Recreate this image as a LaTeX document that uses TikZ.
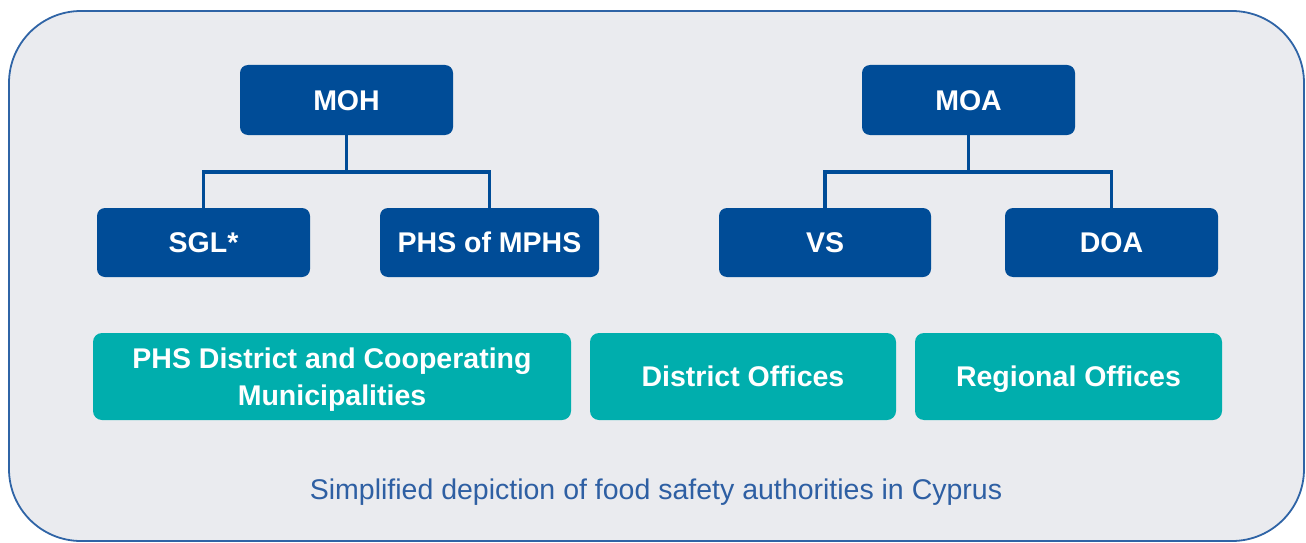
\documentclass[tikz,border=0pt]{standalone}
\usepackage{fontspec}
\setmainfont{Liberation Sans}
\definecolor{bgc}{HTML}{EAEBEF}
\definecolor{framec}{HTML}{2F64A6}
\definecolor{darkb}{HTML}{004C97}
\definecolor{tealc}{HTML}{00AEAD}
\definecolor{capc}{HTML}{2E5FA3}
\begin{document}
\begin{tikzpicture}[x=1pt,y=-1pt,
  bluebox/.style={fill=darkb, rounded corners=8pt, text=white, font=\fontsize{28.5}{34}\selectfont\bfseries, minimum height=70pt, inner sep=0pt, align=center, text height=20.5pt, text depth=0pt},
  tealbox/.style={fill=tealc, rounded corners=9pt, text=white, font=\fontsize{28.5}{37}\selectfont\bfseries, minimum height=87pt, inner sep=0pt, align=center, text depth=0pt},
  oneline/.style={text height=20.5pt},
  conn/.style={draw=darkb, line width=3.5pt},
  captext/.style={text=capc, font=\fontsize{28.5}{33}\selectfont, text height=20.5pt, text depth=0pt}]
\useasboundingbox (0,0) rectangle (1306,543);
\draw[framec, fill=bgc, line width=1.8pt, rounded corners=72pt] (9,11) rectangle (1304,541);
% top level
\node[bluebox, minimum width=213pt] (moh) at (346.5,100) {MOH};
\node[bluebox, minimum width=213pt] (moa) at (968.5,100) {MOA};
% second level
\node[bluebox, minimum width=213pt, minimum height=69pt] (sgl) at (203.5,242.5) {SGL*};
\node[bluebox, minimum width=219pt, minimum height=69pt] (phs) at (489.5,242.5) {PHS of MPHS};
\node[bluebox, minimum width=212pt, minimum height=69pt] (vs) at (825,242.5) {VS};
\node[bluebox, minimum width=213pt, minimum height=69pt] (doa) at (1111.5,242.5) {DOA};
% connectors
\draw[conn] (moh.south) -- ++(0,37) coordinate (mj);
\draw[conn] (mj) -| (sgl.north);
\draw[conn] (mj) -| (phs.north);
\draw[conn] (moa.south) -- ++(0,37) coordinate (aj);
\draw[conn] (aj) -| (vs.north);
\draw[conn] (aj) -| (doa.north);
% teal row
\node[tealbox, minimum width=478pt] (phsd) at (332,376.5) {PHS District and Cooperating\\Municipalities};
\node[tealbox, oneline, minimum width=306pt] (dist) at (743,376.5) {District Offices};
\node[tealbox, oneline, minimum width=307pt] (reg) at (1068.5,376.5) {Regional Offices};
% caption
\node[captext] (cap) at (656,489) {Simplified depiction of food safety authorities in Cyprus};
\end{tikzpicture}
\end{document}
